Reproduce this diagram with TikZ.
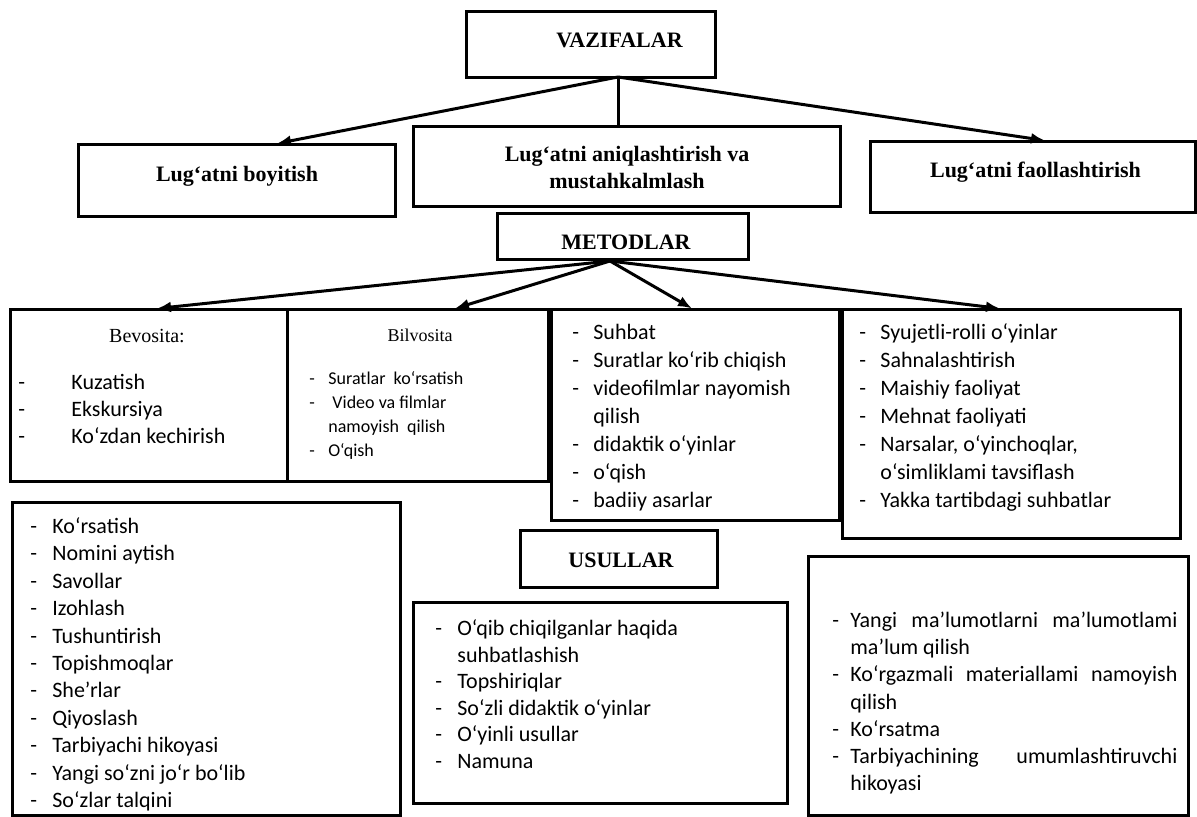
\documentclass[tikz,border=0pt]{standalone}
\usepackage{fontspec}
\setmainfont{Liberation Serif}
\newfontfamily\listfont{Carlito}
\usetikzlibrary{arrows.meta,fit,positioning}
\newcommand{\lidash}[1][10.5pt]{\makebox[#1][l]{-}}
\tikzset{box/.style={draw,line width=1.5pt,inner sep=0pt},
         head text/.style={font=\bfseries\fontsize{11pt}{13.5pt}\selectfont,inner sep=0pt,text height=7.3pt,text depth=0pt},
         sub text/.style={font=\fontsize{#1}{12pt}\selectfont,inner sep=0pt,text height=0.66*#1,text depth=0pt},
         list text/.style 2 args={font=\listfont\fontsize{#1}{#2}\selectfont,align=left,anchor=north west,inner sep=0pt},
         link/.style={line width=1.5pt},
}

\begin{document}
\begin{tikzpicture}[x=0.5pt,y=-0.5pt,>={Latex[length=7pt,width=5.5pt]}]
\useasboundingbox (0,0) rectangle (1197,817);
% \draw[help lines,step=50] (0,0) grid (1197,817);
% tasks
\node[box,fit={(466,12) (715,78)}] (vazbox) {};
\node[head text] (vaztext) at (619.5,40) {VAZIFALAR};
\node[box,fit={(78,145) (395,217)}] (boybox) {};
\node[head text] (boytext) at (237,174.5) {Lug‘atni boyitish};
\node[box,fit={(413,127) (840,207)}] (midbox) {};
\node[font=\bfseries\fontsize{11pt}{13.5pt}\selectfont,align=center,inner sep=0pt] (midtext) at (627,168) {Lug‘atni aniqlashtirish va\\mustahkalmlash};
\node[box,fit={(870,142) (1195,213)}] (faolbox) {};
\node[head text] (faoltext) at (1035.5,170.5) {Lug‘atni faollashtirish};
\coordinate (vazout) at (618,77);
\draw[link,->] (vazout) -- ([xshift=20.25pt]boybox.north);
\draw[link] (vazout) -- (midbox.north -| vazout);
\draw[link,->] (vazout) -- ([xshift=6.25pt]faolbox.north);
% methods
\node[box,fit={(497,214) (748,260)}] (metbox) {};
\node[head text] (mettext) at (626,242.5) {METODLAR};
\node[box,fit={(10,310) (287,481)}] (bevbox) {};
\node[sub text=10pt] (bevtext) at (147,336) {Bevosita:};
\node[list text={11pt}{13.5pt}] (bevlist) at (18,370) {\strut\lidash[26.5pt]Kuzatish\\ \lidash[26.5pt]Ekskursiya\\ \lidash[26.5pt]Ko‘zdan kechirish};
\node[box,fit={(287,310) (548,481)}] (bilbox) {};
\node[sub text=9pt] (biltext) at (420,336) {Bilvosita};
\node[list text={9pt}{12pt}] (billist) at (309,367.5) {\strut\lidash[9.5pt]Suratlar\ \ ko‘rsatish\\ \lidash[9.5pt]\ Video va filmlar\\ \hspace*{9.5pt}namoyish\ \ qilish\\ \lidash[9.5pt]O‘qish};
\node[box,fit={(551,310) (839,520)}] (suhbox) {};
\begin{scope}
\clip (suhbox.south west) rectangle (suhbox.north east);
\node[list text={11pt}{14pt}] (suhlist) at (572,319.5) {\strut\lidash Suhbat\\ \lidash Suratlar ko‘rib chiqish\\ \lidash videofilmlar nayomish\\ \hspace*{10.5pt}qilish\\ \lidash didaktik o‘yinlar\\ \lidash o‘qish\\ \lidash badiiy asarlar};
\end{scope}
\node[box,fit={(842,310) (1180,538)}] (syubox) {};
\node[list text={11pt}{14pt}] (syulist) at (859,319.5) {\strut\lidash Syujetli-rolli o‘yinlar\\ \lidash Sahnalashtirish\\ \lidash Maishiy faoliyat\\ \lidash Mehnat faoliyati\\ \lidash Narsalar, o‘yinchoqlar,\\ \hspace*{10.5pt}o‘simliklami tavsiflash\\ \lidash Yakka tartibdagi suhbatlar};
\coordinate (metout) at (610,261);
\draw[link,->] (metout) -- ([xshift=4.25pt]bevbox.north);
\draw[link,->] (metout) -- ([xshift=18.75pt]bilbox.north);
\draw[link,->] (metout) -- ([xshift=-1.5pt]suhbox.north);
\draw[link,->] (metout) -- ([xshift=-5.5pt]syubox.north);
% ways
\node[box,fit={(12,502) (400,815)}] (korbox) {};
\begin{scope}
\clip (korbox.south west) rectangle (korbox.north east);
\node[list text={11pt}{13.7pt}] (korlist) at (30,514) {\strut\lidash[11pt]Ko‘rsatish\\ \lidash[11pt]Nomini aytish\\ \lidash[11pt]Savollar\\ \lidash[11pt]Izohlash\\ \lidash[11pt]Tushuntirish\\ \lidash[11pt]Topishmoqlar\\ \lidash[11pt]She’rlar\\ \lidash[11pt]Qiyoslash\\ \lidash[11pt]Tarbiyachi hikoyasi\\ \lidash[11pt]Yangi so‘zni jo‘r bo‘lib\\ \lidash[11pt]So‘zlar talqini};
\end{scope}
\node[box,fit={(520,530) (717,587)}] (usulbox) {};
\node[head text] (usultext) at (621,560) {USULLAR};
\node[box,fit={(413,602) (787,803)}] (uslbox) {};
\node[list text={11pt}{13.3pt}] (usllist) at (435,616.5) {\strut\lidash[11pt]O‘qib chiqilganlar haqida\\ \hspace*{11pt}suhbatlashish\\ \lidash[11pt]Topshiriqlar\\ \lidash[11pt]So‘zli didaktik o‘yinlar\\ \lidash[11pt]O‘yinli usullar\\ \lidash[11pt]Namuna};
\node[box,fit={(808,556) (1188,815)}] (yanbox) {};
\node[list text={11pt}{13.6pt}] (yanlist) at (832,608) {\strut\lidash[9pt]\hbox to 163.5pt{Yangi\hfill ma’lumotlarni\hfill ma’lumotlami}\\ \hspace*{9pt}ma’lum qilish\\ \lidash[9pt]\hbox to 163.5pt{Ko‘rgazmali\hfill materiallami\hfill namoyish}\\ \hspace*{9pt}qilish\\ \lidash[9pt]Ko‘rsatma\\ \lidash[9pt]\hbox to 163.5pt{Tarbiyachining\hfill umumlashtiruvchi}\\ \hspace*{9pt}hikoyasi};
\end{tikzpicture}
\end{document}
